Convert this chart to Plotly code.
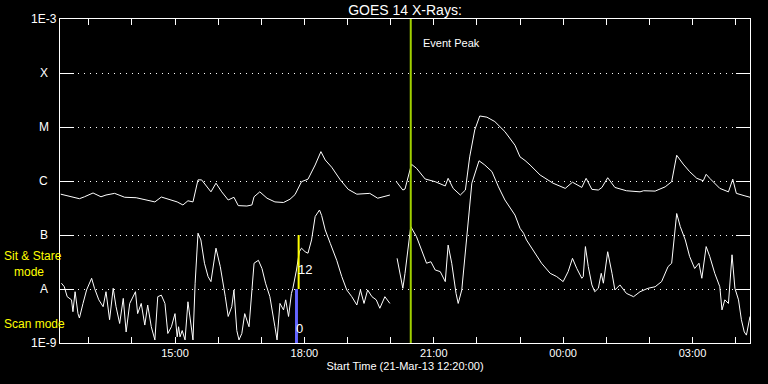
import math
import plotly.graph_objects as go

# ---------------- data ----------------
# GOES 14 long channel (1-8 A), flux in W/m^2 ; None = data gap
long_times = ["12:21", "12:36", "12:47", "12:54", "13:06", "13:17", "13:24", "13:36", "13:50", "14:06",
              "14:18", "14:32", "14:41", "14:53", "15:03", "15:11", "15:18", "15:25", "15:32", "15:37",
              "15:44", "15:50", "15:57", "16:05", "16:14", "16:22", "16:28", "16:40", "16:47", "16:50",
              "16:58", "17:08", "17:19", "17:31", "17:40", "17:47", "17:56", "18:05", "18:15", "18:23",
              "18:29", "18:38", "18:50", "19:01", "19:13", "19:31", "19:42", "19:59", "20:03", "20:08",
              "20:17", "20:20", "20:29", "20:36", "20:48", "21:02", "21:16", "21:20", "21:27", "21:37",
              "21:44", "21:50", "21:57", "22:04", "22:14", "22:25", "22:39", "22:53", "23:00", "23:07",
              "23:14", "23:28", "23:46", "00:03", "00:13", "00:26", "00:32", "00:40", "00:49", "00:54",
              "01:02", "01:12", "01:28", "01:47", "01:52", "02:08", "02:22", "02:31", "02:38", "02:47",
              "02:56", "03:06", "03:15", "03:19", "03:24", "03:38", "03:50", "03:56", "04:01", "04:13",
              "04:20"]
long_flux = [5.7e-7, 5.1e-7, 4.7e-7, 5.1e-7, 6.0e-7, 5.1e-7, 5.5e-7, 5.9e-7, 5.0e-7, 4.9e-7,
             4.45e-7, 4.1e-7, 5.05e-7, 4.45e-7, 4.1e-7, 3.6e-7, 4.3e-7, 4.1e-7, 1.05e-6, 1.05e-6,
             7.8e-7, 6.3e-7, 9.1e-7, 6.3e-7, 4.45e-7, 5.0e-7, 3.5e-7, 3.44e-7, 3.6e-7, 5.1e-7,
             6.3e-7, 4.8e-7, 4.1e-7, 4.0e-7, 4.6e-7, 5.6e-7, 9.7e-7, 1.08e-6, 1.98e-6, 3.5e-6,
             2.45e-6, 1.8e-6, 1.05e-6, 7.0e-7, 5.7e-7, 5.9e-7, 4.8e-7, 5.5e-7, None, 9.7e-7,
             6.8e-7, 7.1e-7, 2.04e-6, 1.72e-6, 1.09e-6, 9.7e-7, 8.1e-7, 1.12e-6, 7.3e-7, 5.5e-7,
             6.8e-7, 2.8e-6, 8.8e-6, 1.6e-5, 1.52e-5, 1.26e-5, 8.2e-6, 4.6e-6, 2.8e-6, 2.4e-6,
             1.98e-6, 1.29e-6, 9.1e-7, 7.3e-7, 9.5e-7, 7.6e-7, 1.12e-6, 7.0e-7, 6.8e-7, 7.6e-7,
             1.15e-6, 7.6e-7, 6.6e-7, 6.3e-7, 6.6e-7, 6.5e-7, 7.8e-7, 9.7e-7, 3.0e-6, 2.06e-6,
             1.49e-6, 1.12e-6, 1.01e-6, 1.33e-6, 1.12e-6, 7.3e-7, 6.3e-7, 1.08e-6, 5.9e-7, 5.3e-7,
             5.0e-7]

# GOES 14 short channel (0.5-4 A), flux in W/m^2 ; None = data gap
short_times = ["12:22", "12:26", "12:30", "12:36", "12:38", "12:41", "12:45", "12:47", "12:52", "12:57",
               "13:04", "13:08", "13:14", "13:20", "13:24", "13:29", "13:34", "13:38", "13:43", "13:48",
               "13:52", "13:57", "14:05", "14:08", "14:13", "14:18", "14:22", "14:27", "14:32", "14:36",
               "14:41", "14:46", "14:50", "14:55", "15:00", "15:03", "15:05", "15:07", "15:10", "15:14",
               "15:18", "15:22", "15:25", "15:28", "15:32", "15:36", "15:41", "15:46", "15:50", "15:57",
               "16:03", "16:10", "16:14", "16:19", "16:22", "16:26", "16:29", "16:33", "16:37", "16:43",
               "16:47", "16:50", "16:56", "17:01", "17:06", "17:12", "17:19", "17:22", "17:26", "17:31",
               "17:34", "17:38", "17:42", "17:44", "17:49", "17:53", "17:56", "18:01", "18:05", "18:10",
               "18:15", "18:21", "18:24", "18:29", "18:36", "18:45", "18:52", "18:59", "19:06", "19:13",
               "19:18", "19:23", "19:28", "19:34", "19:40", "19:45", "19:52", "19:59", "20:03", "20:09",
               "20:13", "20:17", "20:20", "20:28", "20:36", "20:43", "20:50", "20:56", "21:02", "21:09",
               "21:16", "21:20", "21:25", "21:31", "21:34", "21:39", "21:46", "21:53", "22:03", "22:11",
               "22:21", "22:30", "22:39", "22:53", "23:00", "23:05", "23:09", "23:18", "23:30", "23:42",
               "23:51", "00:00", "00:07", "00:13", "00:19", "00:26", "00:28", "00:31", "00:35", "00:40",
               "00:44", "00:49", "00:53", "00:56", "01:02", "01:08", "01:12", "01:19", "01:28", "01:38",
               "01:47", "01:58", "02:08", "02:17", "02:26", "02:31", "02:38", "02:43", "02:50", "02:56",
               "03:03", "03:09", "03:13", "03:19", "03:24", "03:31", "03:38", "03:41", "03:45", "03:50",
               "03:55", "03:59", "04:04", "04:08", "04:12", "04:15", "04:20"]
short_flux = [1.28e-8, 1.1e-8, 7.2e-9, 6.3e-9, 3.8e-9, 8.9e-9, 3.5e-9, 2.9e-9, 5.4e-9, 9.6e-9,
              1.58e-8, 1.03e-8, 6.3e-9, 4.7e-9, 8.9e-9, 2.7e-9, 1.03e-8, 4.7e-9, 2.3e-9, 6.7e-9,
              1.6e-9, 5.4e-9, 8.9e-9, 3.5e-9, 5.4e-9, 2.15e-9, 5.05e-9, 2.0e-9, 1.14e-9, 7.2e-9,
              7.7e-9, 5.4e-9, 1.5e-9, 2.0e-9, 3.5e-9, 1.3e-9, 2.0e-9, 1.3e-9, 1.7e-9, 1.14e-9,
              5.8e-9, 2.3e-9, 1.14e-9, 1.28e-8, 1.08e-7, 8.1e-8, 3.0e-8, 1.7e-8, 1.37e-8, 5.7e-8,
              2.6e-8, 7.2e-9, 3.1e-9, 4.7e-9, 9.6e-9, 1.7e-9, 1.14e-9, 1.5e-9, 3.5e-9, 2.0e-9,
              9.6e-9, 3.0e-8, 3.4e-8, 2.4e-8, 1.28e-8, 7.2e-9, 2.0e-9, 1.14e-9, 5.4e-9, 4.1e-9,
              6.3e-9, 3.1e-9, 8.3e-9, 1.03e-8, 2.25e-8, 4.9e-8, 5.7e-8, 4.9e-8, 4.6e-8, 8.1e-8,
              2.2e-7, 2.9e-7, 2.3e-7, 1.24e-7, 7.0e-8, 3.4e-8, 1.7e-8, 9.6e-9, 7.2e-9, 5.05e-9,
              9.6e-9, 5.4e-9, 9.6e-9, 7.2e-9, 6.3e-9, 4.4e-9, 7.2e-9, 5.4e-9, None, 3.7e-8,
              1.8e-8, 1.03e-8, 1.95e-8, 1.43e-7, 9.3e-8, 5.3e-8, 3.0e-8, 3.2e-8, 2.25e-8, 2.1e-8,
              1.37e-8, 6.5e-8, 3.0e-8, 8.3e-9, 5.4e-9, 9.6e-9, 8.1e-8, 9.1e-7, 2.37e-6, 1.98e-6,
              1.49e-6, 7.8e-7, 4.45e-7, 2.34e-7, 1.33e-7, 1.08e-7, 8.1e-8, 5.3e-8, 3.0e-8, 1.95e-8,
              1.7e-8, 1.37e-8, 2.1e-8, 3.7e-8, 2.4e-8, 1.58e-8, 1.7e-8, 6.1e-8, 2.6e-8, 1.19e-8,
              8.9e-9, 1.03e-8, 1.95e-8, 1.28e-8, 4.9e-8, 1.95e-8, 9.6e-9, 1.19e-8, 8.3e-9, 7.2e-9,
              8.9e-9, 1.03e-8, 1.1e-8, 1.37e-8, 2.6e-8, 3.0e-8, 2.5e-7, 1.43e-7, 8.1e-8, 4.0e-8,
              2.4e-8, 3.0e-8, 1.58e-8, 6.1e-8, 4.0e-8, 1.95e-8, 1.1e-8, 4.1e-9, 6.3e-9, 5.4e-9,
              4.3e-8, 1.03e-8, 6.3e-9, 2.7e-9, 1.6e-9, 1.4e-9, 3.1e-9]

class_levels = [1e-9, 1e-8, 1e-7, 1e-6, 1e-5, 1e-4, 1e-3]
class_labels = ["1E-9", "A", "B", "C", "M", "X", "1E-3"]

# hourly ticks; only every third hour is labelled
tick_times = ["13:00", "14:00", "15:00", "16:00", "17:00", "18:00", "19:00", "20:00", "21:00",
              "22:00", "23:00", "00:00", "01:00", "02:00", "03:00", "04:00"]
tick_labels = ["", "", "15:00", "", "", "18:00", "", "", "21:00",
               "", "", "00:00", "", "", "03:00", ""]

start_time = "12:20"
end_time = "04:20"
event_peak_time = "20:28"
sit_stare_time = "17:52"
sit_stare_range = [1e-7, 1e-8]
scan_time = "17:49"
scan_range = [1e-8, 1e-9]

# ---------------- helpers ----------------
def ts(hhmm):
    h = int(hhmm[:2])
    day = 21 if h >= 12 else 22
    return f"2013-03-{day} {hhmm}:00"

FONT = "Liberation Sans"
WHITE = "#ffffff"
YELLOW = "#ffff00"
GREEN = "#a0d000"
BLUE = "#6464ff"

fig = go.Figure()

fig.add_trace(go.Scatter(x=[ts(t) for t in long_times], y=long_flux, mode="lines",
                         line=dict(color=WHITE, width=1), connectgaps=False, hoverinfo="skip"))
fig.add_trace(go.Scatter(x=[ts(t) for t in short_times], y=short_flux, mode="lines",
                         line=dict(color=WHITE, width=1), connectgaps=False, hoverinfo="skip"))

# observing-mode bars
fig.add_trace(go.Scatter(x=[ts(sit_stare_time)] * 2, y=sit_stare_range, mode="lines",
                         line=dict(color=YELLOW, width=2), hoverinfo="skip"))
fig.add_trace(go.Scatter(x=[ts(scan_time)] * 2, y=scan_range, mode="lines",
                         line=dict(color=BLUE, width=3), hoverinfo="skip"))

# event peak line
fig.add_shape(type="line", xref="x", yref="paper", x0=ts(event_peak_time), x1=ts(event_peak_time),
              y0=0, y1=1, line=dict(color=GREEN, width=2), layer="above")

annotations = []
# y class labels, centred left of the axis
for lv, lab in zip(class_levels, class_labels):
    annotations.append(dict(text=lab, xref="paper", x=-0.0232, yref="y", y=math.log10(lv),
                            xanchor="center", yanchor="middle", showarrow=False,
                            font=dict(family=FONT, size=12, color=WHITE)))

annotations += [
    dict(text="Event Peak", xref="x", x=ts(event_peak_time), xshift=10, yref="paper", y=0.926,
         xanchor="left", yanchor="middle", showarrow=False, font=dict(family=FONT, size=11, color=WHITE)),
    dict(text="Sit & Stare<br>&nbsp;&nbsp;&nbsp;mode", xref="paper", x=-0.0841, yref="y", y=-7.546,
         xanchor="left", yanchor="middle", align="left", showarrow=False,
         font=dict(family=FONT, size=12, color=YELLOW)),
    dict(text="Scan mode", xref="paper", x=-0.0841, yref="y", y=-8.648, xanchor="left",
         yanchor="middle", showarrow=False, font=dict(family=FONT, size=12, color=YELLOW)),
    dict(text="12", xref="x", x=ts(sit_stare_time), xshift=6, yref="y", y=-7.64, xanchor="center",
         yanchor="middle", showarrow=False, font=dict(family=FONT, size=13, color=WHITE)),
    dict(text="0", xref="x", x=ts(scan_time), xshift=3, yref="y", y=-8.74, xanchor="center",
         yanchor="middle", showarrow=False, font=dict(family=FONT, size=13, color=WHITE)),
]

fig.update_layout(
    width=768, height=384,
    margin=dict(l=60, r=18, t=19, b=41),
    paper_bgcolor="black", plot_bgcolor="black",
    showlegend=False,
    title=dict(text="GOES 14 X-Rays:", x=0.5, xref="paper", xanchor="center",
               y=1 - 10 / 384, yref="container", yanchor="middle",
               font=dict(family=FONT, size=14, color=WHITE)),
    annotations=annotations,
    xaxis=dict(
        type="date", range=[ts(start_time), ts(end_time)],
        tickmode="array", tickvals=[ts(t) for t in tick_times], ticktext=tick_labels,
        ticks="inside", ticklen=6, tickwidth=1, tickcolor=WHITE,
        showline=True, linecolor=WHITE, linewidth=1, mirror="ticks",
        showgrid=False, zeroline=False,
        tickfont=dict(family=FONT, size=11, color=WHITE),
        title=dict(text="Start Time (21-Mar-13 12:20:00)", standoff=4,
                   font=dict(family=FONT, size=11, color=WHITE)),
    ),
    yaxis=dict(
        type="log", range=[-9, -3],
        tickmode="array", tickvals=class_levels, showticklabels=False,
        ticks="inside", ticklen=14, tickwidth=1, tickcolor=WHITE,
        showline=True, linecolor=WHITE, linewidth=1, mirror="ticks",
        showgrid=True, gridcolor=WHITE, gridwidth=1, griddash="1px,5px",
        zeroline=False,
    ),
)

fig.write_html("out.html")
